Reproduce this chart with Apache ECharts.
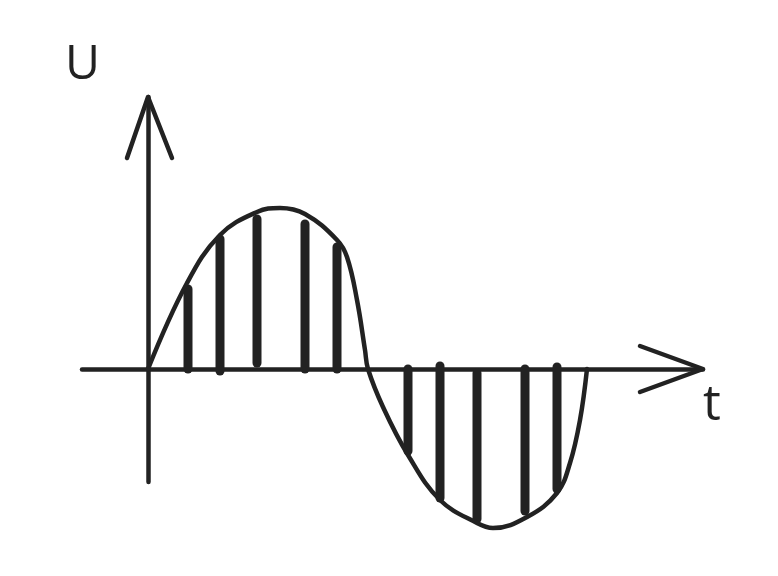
<!DOCTYPE html>
<html>
<head>
<meta charset="utf-8">
<script src="https://cdn.jsdelivr.net/npm/echarts@6/dist/echarts.min.js"></script>
<style>html,body{margin:0;padding:0;background:#fff;}#c{width:778px;height:576px;}</style>
</head>
<body>
<div id="c"></div>
<script>
// Sine-like voltage curve U(t)
var curveT = [0, 1.95, 3.6, 5.45, 6.6, 7.85, 9.45, 9.95, 10.45, 10.85, 11.0, 11.75, 13.0, 14.6, 16.45, 17.25, 18.95, 20.45, 21.1, 21.6, 21.95];
var curveU = [0, 4.3, 6.7, 7.85, 8.05, 7.75, 6.45, 5.6, 3.45, 0.95, 0, -1.9, -4.3, -6.55, -7.7, -7.95, -7.4, -6.2, -4.7, -2.55, 0];
// Sample bars
var barT    = [2.0, 3.6, 5.45, 7.85, 9.45, 13.0, 14.6, 16.45, 18.85, 20.45];
var barBase = [0, -0.1, 0.3, 0, 0, 0, 0.15, -0.2, 0, 0.1];
var barTop  = [4.0, 6.5, 7.5, 7.25, 6.1, -4.1, -6.45, -7.5, -7.1, -6.0];
// Arrow heads
var xArrowT = [24.6, 27.75, 24.6];
var xArrowU = [1.15, 0, -1.15];
var yArrowT = [-1.05, 0, 1.2];
var yArrowU = [10.55, 13.6, 10.55];
var axisLabels = ['U', 't'];

var ink = '#222222';
function zip(a, b) { return a.map(function (v, i) { return [v, b[i]]; }); }

var chart = echarts.init(document.getElementById('c'));
chart.setOption({
  animation: false,
  backgroundColor: '#ffffff',
  grid: { left: 82, right: 75, top: 97, bottom: 94 },
  xAxis: {
    type: 'value', min: -3.3, max: 27.75,
    axisLine: { show: true, onZero: true, lineStyle: { color: ink, width: 4.5, cap: 'round' } },
    axisTick: { show: false }, axisLabel: { show: false }, splitLine: { show: false }
  },
  yAxis: {
    type: 'value', min: -5.65, max: 13.6,
    axisLine: { show: true, onZero: true, lineStyle: { color: ink, width: 4.5, cap: 'round' } },
    axisTick: { show: false }, axisLabel: { show: false }, splitLine: { show: false }
  },
  graphic: [
    { type: 'text', left: 65, top: 41, style: { text: axisLabels[0], font: '400 48px "Open Sans"', fill: ink } },
    { type: 'text', left: 703, top: 381, style: { text: axisLabels[1], font: '400 50px "Open Sans"', fill: ink } }
  ],
  series: [
    {
      type: 'line', data: zip(curveT, curveU), smooth: 0.4, symbol: 'none', clip: false,
      lineStyle: { color: ink, width: 4.5, cap: 'round', join: 'round' }
    },
    {
      type: 'custom', clip: false,
      data: barT.map(function (t, i) { return [t, barBase[i], barTop[i]]; }),
      renderItem: function (params, api) {
        var p0 = api.coord([api.value(0), api.value(1)]);
        var p1 = api.coord([api.value(0), api.value(2)]);
        return { type: 'line', shape: { x1: p0[0], y1: p0[1], x2: p1[0], y2: p1[1] },
                 style: { stroke: ink, lineWidth: 9, lineCap: 'round' } };
      }
    },
    {
      type: 'line', data: zip(xArrowT, xArrowU), symbol: 'none', clip: false,
      lineStyle: { color: ink, width: 4.5, cap: 'round', join: 'round' }
    },
    {
      type: 'line', data: zip(yArrowT, yArrowU), symbol: 'none', clip: false,
      lineStyle: { color: ink, width: 4.5, cap: 'round', join: 'round' }
    }
  ]
});
</script>
</body>
</html>
